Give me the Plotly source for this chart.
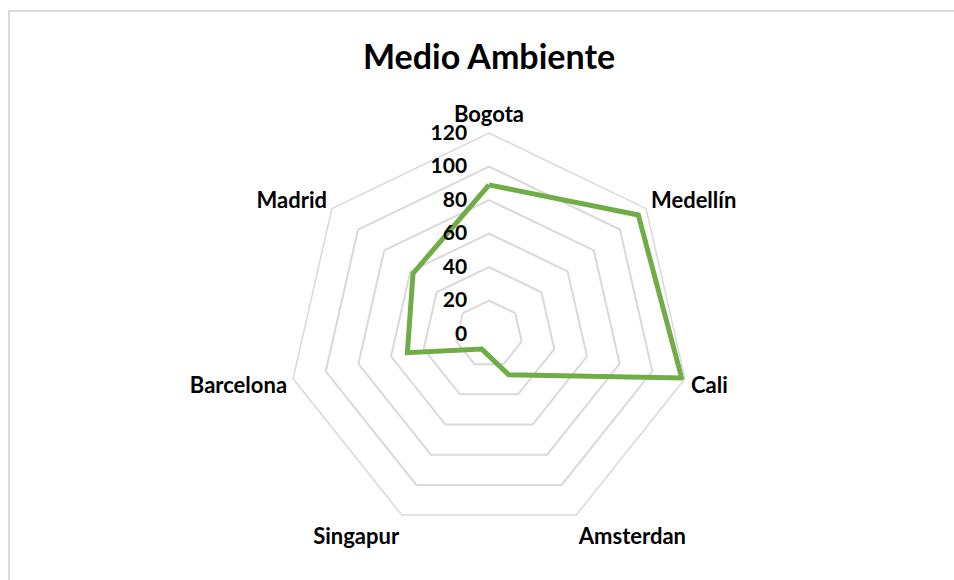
import plotly.graph_objects as go

categories = ["Bogota", "Medellín", "Cali", "Amsterdan", "Singapur", "Barcelona", "Madrid"]
values = [89, 114, 118, 27, 10, 50, 58]
radial_ticks = [0, 20, 40, 60, 80, 100, 120]

W, H = 954, 580
cx, cy, R = 489, 334, 201

FONT = "Lato"

fig = go.Figure()
fig.add_trace(go.Scatterpolar(
    r=values + [values[0]],
    theta=categories + [categories[0]],
    mode="lines",
    line=dict(color="#70AD47", width=5),
    showlegend=False,
))

fig.update_layout(
    width=W, height=H,
    margin=dict(l=0, r=0, t=0, b=0),
    paper_bgcolor="white",
    plot_bgcolor="white",
    title=dict(text="Medio Ambiente", x=cx / W, xanchor="center",
               y=1 - 57 / H, yanchor="middle",
               font=dict(family=FONT, size=34, color="black", weight="bold")),
    polar=dict(
        domain=dict(x=[(cx - R) / W, (cx + R) / W], y=[(H - cy - R) / H, (H - cy + R) / H]),
        bgcolor="white",
        gridshape="linear",
        radialaxis=dict(
            range=[0, 120], tickvals=radial_ticks, ticktext=[str(v) for v in radial_ticks],
            angle=90, tickangle=90, side="counterclockwise", showline=False,
            ticks="outside", ticklen=14, tickcolor="rgba(0,0,0,0)",
            gridcolor="#d9d9d9", gridwidth=1.5,
            tickfont=dict(family=FONT, size=21, color="black", weight="bold"),
        ),
        angularaxis=dict(
            direction="clockwise", rotation=90,
            showgrid=False, showline=True, linecolor="#d9d9d9", linewidth=1.5,
            ticks="outside", ticklen=1, tickcolor="rgba(0,0,0,0)",
            tickfont=dict(family=FONT, size=22, color="black", weight="bold"),
        ),
    ),
    shapes=[dict(type="rect", xref="paper", yref="paper",
                 x0=9 / W, x1=1.02, y0=-0.02, y1=1 - 11 / H,
                 line=dict(color="#d9d9d9", width=2), fillcolor="rgba(0,0,0,0)")],
)

fig.write_html("out.html")
